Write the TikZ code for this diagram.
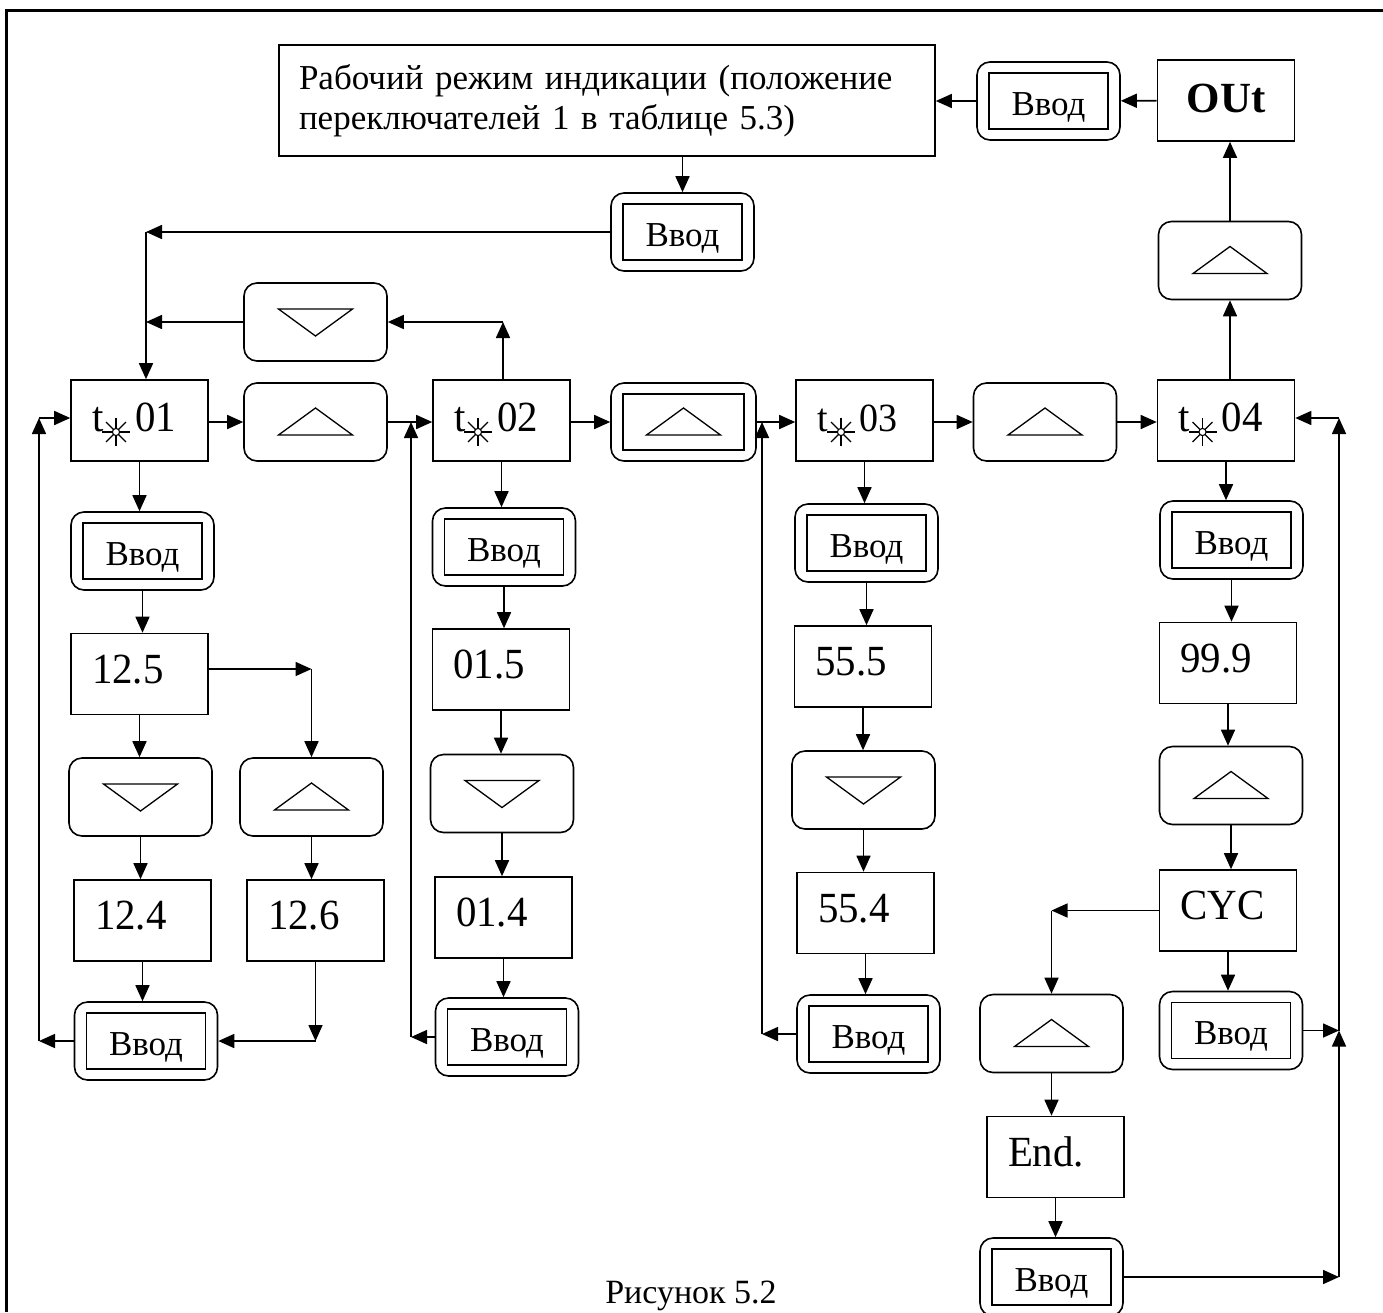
\documentclass[tikz,border=0pt]{standalone}
\usepackage{fontspec}
\setmainfont{Liberation Serif}
\newfontfamily\numfont[FakeStretch=0.95]{Liberation Serif}
\usetikzlibrary{arrows.meta,calc}
\newcommand{\myUpTri}{\draw[line width=1.3pt, sharp corners] ([shift={(-37pt,-13pt)}]path picture bounding box.center) -- ([shift={(37pt,-13pt)}]path picture bounding box.center) -- ([shift={(0pt,14pt)}]path picture bounding box.center) -- cycle;}
\newcommand{\myDnTri}{\draw[line width=1.3pt, sharp corners] ([shift={(-37pt,13pt)}]path picture bounding box.center) -- ([shift={(37pt,13pt)}]path picture bounding box.center) -- ([shift={(0pt,-14pt)}]path picture bounding box.center) -- cycle;}
\newcommand{\myInner}{\draw[line width=1.6pt, sharp corners] ([shift={(12pt,-11pt)}]path picture bounding box.north west) rectangle ([shift={(-12pt,11pt)}]path picture bounding box.south east);}
\newcommand{\mySun}{%
  \coordinate (sunP) at ([shift={(45pt,-11.5pt)}]path picture bounding box.west);
  \foreach \a in {0,45,...,315} \draw[line width=1.1pt] (sunP) -- ++(\a:14pt);
  \filldraw[fill=white, line width=1.1pt] (sunP) circle (3.6pt);}
\tikzset{
  lw/.style={line width=1.6pt},
  frame/.style={line width=3pt},
  arr/.style={lw, -{Triangle[length=16pt,width=14pt]}},
  box/.style={draw, lw, rectangle, minimum width=137pt, minimum height=81pt, inner xsep=21pt, inner ysep=0pt, text width=95pt, align=left, font=\numfont\fontsize{43}{43}\selectfont, text height=29pt, text depth=11pt},
  tbox/.style={box, text height=29pt, text depth=8pt, path picture={\mySun}},
  rbox/.style={draw, lw, rounded corners=13pt, minimum width=143pt, minimum height=78pt, inner sep=0pt},
  upbtn/.style={rbox, path picture={\myUpTri}},
  dnbtn/.style={rbox, path picture={\myDnTri}},
  vvod/.style={rbox, font=\fontsize{35}{35}\selectfont, text height=35pt, text depth=7pt, path picture={\myInner}},
  dupbtn/.style={rbox, minimum width=145pt, path picture={\myInner\myUpTri}},
  txtbox/.style={draw, lw, rectangle, minimum width=656pt, minimum height=111pt, inner xsep=20pt, inner ysep=0pt, text width=616pt, align=left, font=\fontsize{35}{40}\selectfont},
  caption/.style={font=\fontsize{34}{34}\selectfont, anchor=base, inner sep=0pt}
}
\begin{document}
\begin{tikzpicture}[x=1pt,y=-1pt]
\useasboundingbox (0,0) rectangle (1383,1312);
\draw[frame] (6,1312) -- (6,10) -- (1383,10);

% nodes
\node[txtbox] (top) at (607,100.5) {Рабочий режим индикации (положение\\переключателей 1 в таблице 5.3)};
\node[vvod] (v0) at (1048.5,101) {Ввод};
\node[box, align=center, font=\fontsize{43}{43}\selectfont\bfseries, text height=29pt, text depth=6pt] (out) at (1226,100.5) {OUt};
\node[vvod] (v1) at (682.5,232) {Ввод};
\node[upbtn] (upR) at (1230,260.5) {};
\node[dnbtn] (dn0) at (315.5,322) {};
\node[tbox] (t01) at (139.5,420.5) {t\hspace{32pt}01};
\node[upbtn] (up1) at (315.5,422) {};
\node[tbox] (t02) at (501.5,420.5) {t\hspace{32pt}02};
\node[dupbtn] (dup) at (683.5,422) {};
\node[tbox, font=\numfont\fontsize{40}{40}\selectfont] (t03) at (864.5,420.5) {t\hspace{32pt}03};
\node[upbtn] (up3) at (1045,422) {};
\node[tbox] (t04) at (1226,420.5) {t\hspace{32pt}04};
\node[vvod] (v11) at (142.5,551) {Ввод};
\node[vvod] (v21) at (504,547) {Ввод};
\node[vvod] (v31) at (866.5,543) {Ввод};
\node[vvod] (v41) at (1231.5,540) {Ввод};
\node[box] (n125) at (139.5,674) {12.5};
\node[box] (n015) at (501,669.5) {01.5};
\node[box] (n555) at (863,666.5) {55.5};
\node[box] (n999) at (1228,663) {99.9};
\node[dnbtn] (dn1) at (140.5,797) {};
\node[upbtn] (up1b) at (311.5,797) {};
\node[dnbtn] (dn2) at (502,793.5) {};
\node[dnbtn] (dn3) at (863.5,790) {};
\node[upbtn] (up4) at (1231,785.5) {};
\node[box] (n124) at (142.5,920.5) {12.4};
\node[box] (n126) at (315.5,920.5) {12.6};
\node[box] (n014) at (503.5,917.5) {01.4};
\node[box] (n554) at (865.5,913) {55.4};
\node[box] (cyc) at (1228,910.5) {CYC};
\node[vvod] (v12) at (146,1041) {Ввод};
\node[vvod] (v22) at (507,1037) {Ввод};
\node[vvod] (v32) at (868.5,1034) {Ввод};
\node[vvod] (v42) at (1231,1030.5) {Ввод};
\node[upbtn] (upE) at (1051.5,1033.5) {};
\node[box] (endb) at (1055.5,1157) {End.};
\node[vvod] (vE) at (1051.5,1277) {Ввод};
\node[caption] (cap) at (691,1303) {Рисунок 5.2};

% junction points
\coordinate (c1) at (146,232);
\coordinate (c2) at (146,322);
\coordinate (c3) at (503,322);
\coordinate (c4) at (311.5,669);
\coordinate (c5) at (n126 |- v12);
\coordinate (c6) at (39,1041);
\coordinate (c7) at (39,418);
\coordinate (c8) at (411,1037);
\coordinate (c9) at (411,422);
\coordinate (c10) at (762,1034);
\coordinate (c11) at (762,422);
\coordinate (c12) at (upE |- cyc);
\coordinate (c13) at (1339,1277);
\coordinate (c14) at (1339,1030.5);
\coordinate (c15) at (1339,418);

% top part
\draw[arr] (out) -- (v0);
\draw[arr] (v0.west) -- (v0.west -| top.east);
\draw[arr] (v1.north |- top.south) -- (v1.north);
\draw[arr] (v1.west) -- (c1);
\draw[arr] (c1) -- (c1 |- t01.north);
\draw[arr] (dn0.west) -- (c2);
\draw[arr] (c3 |- t02.north) -- (c3);
\draw[arr] (c3) -- (dn0.east);
\draw[arr] (up1.west -| t01.east) -- (up1.west);
\draw[arr] (up1.east) -- (up1.east -| t02.west);
\draw[arr] (dup.west -| t02.east) -- (dup.west);
\draw[arr] (dup.east) -- (dup.east -| t03.west);
\draw[arr] (up3.west -| t03.east) -- (up3.west);
\draw[arr] (up3.east) -- (up3.east -| t04.west);
\draw[arr] (upR.south |- t04.north) -- (upR.south);
\draw[arr] (upR.north) -- (upR.north |- out.south);

% column 1
\draw[arr] (t01) -- (t01 |- v11.north);
\draw[arr] (v11) -- (v11 |- n125.north);
\draw[arr] (n125) -- (n125 |- dn1.north);
\draw[arr] (dn1) -- (dn1 |- n124.north);
\draw[arr] (n124) -- (n124 |- v12.north);
\draw[arr] (c4 -| n125.east) -- (c4);
\draw[arr] (c4) -- (up1b);
\draw[arr] (up1b) -- (up1b |- n126.north);
\draw[arr] (n126) -- (c5);
\draw[arr] (c5) -- (v12);
\draw[arr] (v12) -- (c6);
\draw[arr] (c6) -- (c7);
\draw[arr] (c7) -- (c7 -| t01.west);

% column 2
\draw[arr] (t02) -- (t02 |- v21.north);
\draw[arr] (v21) -- (v21 |- n015.north);
\draw[arr] (n015) -- (n015 |- dn2.north);
\draw[arr] (dn2) -- (dn2 |- n014.north);
\draw[arr] (n014) -- (n014 |- v22.north);
\draw[arr] (v22) -- (c8);
\draw[arr] (c8) -- (c9);

% column 3
\draw[arr] (t03) -- (t03 |- v31.north);
\draw[arr] (v31) -- (v31 |- n555.north);
\draw[arr] (n555) -- (n555 |- dn3.north);
\draw[arr] (dn3) -- (dn3 |- n554.north);
\draw[arr] (n554) -- (n554 |- v32.north);
\draw[arr] (v32) -- (c10);
\draw[arr] (c10) -- (c11);

% column 4
\draw[arr] (t04) -- (t04 |- v41.north);
\draw[arr] (v41) -- (v41 |- n999.north);
\draw[arr] (n999) -- (n999 |- up4.north);
\draw[arr] (up4) -- (up4 |- cyc.north);
\draw[arr] (cyc) -- (cyc |- v42.north);
\draw[arr] (cyc) -- (c12);
\draw[arr] (c12) -- (upE);
\draw[arr] (upE) -- (upE |- endb.north);
\draw[arr] (endb) -- (endb |- vE.north);
\draw[arr] (vE) -- (c13);
\draw[arr] (c13) -- (c14);
\draw[arr] (v42) -- (c14);
\draw[arr] (c14) -- (c15);
\draw[arr] (c15) -- (c15 -| t04.east);
\end{tikzpicture}
\end{document}
